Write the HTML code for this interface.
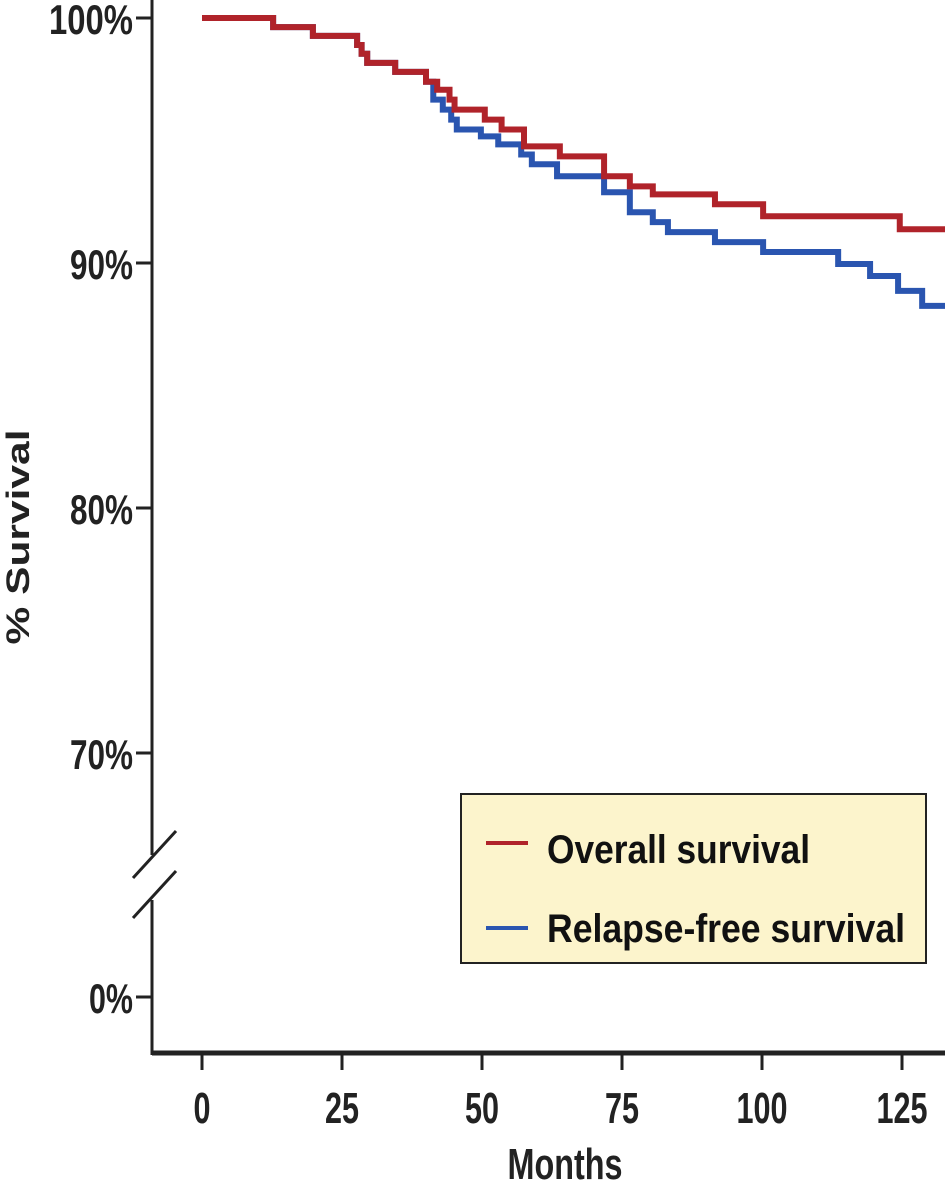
<!DOCTYPE html>
<html><head><meta charset="utf-8"><style>
html,body{margin:0;padding:0;background:#fff;}
svg{display:block;font-family:"Liberation Sans",Arial,sans-serif;font-weight:bold;}
</style></head><body>
<svg id="chart" width="945" height="1181" viewBox="0 0 945 1181">
<g id="axes"></g>
<g id="series"></g>
<g id="legend">
<rect x="461" y="794" width="465" height="169" fill="#fcf4cc" stroke="#222" stroke-width="2"/>
<line x1="486" y1="843" x2="528" y2="843" stroke="#b0232a" stroke-width="4"/>
<text x="547" y="863" font-size="40" textLength="263" lengthAdjust="spacingAndGlyphs" fill="#111">Overall survival</text>
<line x1="486" y1="928" x2="528" y2="928" stroke="#2a55b0" stroke-width="4"/>
<text x="547" y="942" font-size="40" textLength="358" lengthAdjust="spacingAndGlyphs" fill="#111">Relapse-free survival</text>
</g>
</svg>
<script>
const xTicks = [0, 25, 50, 75, 100, 125];
const yTicks = [100, 90, 80, 70];
const yTickLabels = ["100%", "90%", "80%", "70%"];
const overallMonths = [0, 12.7, 19.8, 27.7, 28.5, 29.5, 34.5, 40.0, 42.0, 44.2, 45.1, 50.5, 53.5, 57.5, 63.9, 71.8, 76.4, 80.5, 91.6, 100.2, 124.6, 133];
const overallPct = [100, 99.63, 99.27, 98.90, 98.54, 98.17, 97.80, 97.40, 97.07, 96.67, 96.26, 95.85, 95.45, 94.76, 94.35, 93.54, 93.13, 92.80, 92.40, 91.91, 91.38, 91.38];
const rfsMonths = [0, 12.7, 19.8, 27.7, 28.5, 29.5, 34.5, 40.0, 41.3, 43.0, 44.5, 45.5, 49.8, 52.9, 57.0, 58.9, 63.4, 71.8, 76.4, 80.5, 83.2, 91.6, 100.2, 113.6, 119.3, 124.3, 128.6, 133];
const rfsPct = [100, 99.63, 99.27, 98.90, 98.54, 98.17, 97.80, 97.40, 96.67, 96.26, 95.85, 95.45, 95.17, 94.84, 94.43, 94.03, 93.54, 92.89, 92.07, 91.67, 91.26, 90.85, 90.45, 89.96, 89.47, 88.86, 88.25, 88.25];

const NS = "http://www.w3.org/2000/svg";
const xScale = m => 202 + m * 5.6;
const yScale = p => 18 + (100 - p) * 24.5;
const axes = document.getElementById('axes');
const series = document.getElementById('series');
function mk(tag, attrs, parent, txt) {
  const e = document.createElementNS(NS, tag);
  for (const k in attrs) e.setAttribute(k, attrs[k]);
  if (txt !== undefined) e.textContent = txt;
  parent.appendChild(e);
  return e;
}
let e;
e = mk('line', {x1:152, y1:0, x2:152, y2:855, stroke:'#222', 'stroke-width':3}, axes);


e = mk('line', {x1:152, y1:900, x2:152, y2:1055, stroke:'#222', 'stroke-width':3}, axes);


e = mk('line', {x1:133, y1:878, x2:176, y2:831, stroke:'#222', 'stroke-width':3}, axes);


e = mk('line', {x1:133, y1:918, x2:176, y2:871, stroke:'#222', 'stroke-width':3}, axes);


e = mk('line', {x1:152, y1:1053, x2:945, y2:1053, stroke:'#222', 'stroke-width':5}, axes);


yTicks.forEach((v, i) => {
  const y = yScale(v);
  const t = mk('line', {x1:136, y1:y, x2:152, y2:y, stroke:'#222', 'stroke-width':3}, axes);
  
  
  const l = mk('text', {x:133, y:y + 16, 'font-size':42, 'text-anchor':'end', fill:'#222', textLength: yTickLabels[i].length * 21, lengthAdjust:'spacingAndGlyphs'}, axes, yTickLabels[i]);
  
  
});
e = mk('line', {x1:136, y1:997, x2:152, y2:997, stroke:'#222', 'stroke-width':3}, axes);


e = mk('text', {x:133, y:1013, 'font-size':42, 'text-anchor':'end', fill:'#222', textLength:44, lengthAdjust:'spacingAndGlyphs'}, axes, '0%');


xTicks.forEach(v => {
  const x = xScale(v);
  const t = mk('line', {x1:x, y1:1055, x2:x, y2:1070, stroke:'#222', 'stroke-width':3}, axes);
  
  
  const s = String(v);
  const l = mk('text', {x:x, y:1123, 'font-size':44, 'text-anchor':'middle', fill:'#222', textLength: s.length * 17, lengthAdjust:'spacingAndGlyphs'}, axes, s);
  
  
});
e = mk('text', {x:565, y:1179, 'font-size':44, 'text-anchor':'middle', fill:'#222', textLength:115, lengthAdjust:'spacingAndGlyphs'}, axes, 'Months');


e = mk('text', {x:0, y:0, 'font-size':32, 'text-anchor':'middle', fill:'#222', textLength:215, lengthAdjust:'spacingAndGlyphs', transform:'translate(29,537) rotate(-90)'}, axes, '% Survival');



function stepPath(ms, ps) {
  let d = 'M' + xScale(ms[0]) + ',' + yScale(ps[0]);
  for (let i = 1; i < ms.length; i++) {
    d += ' H' + Math.min(945, xScale(ms[i])) + ' V' + yScale(ps[i]);
  }
  return d;
}
e = mk('path', {d: stepPath(rfsMonths, rfsPct), fill:'none', stroke:'#2a55b0', 'stroke-width':6}, series);


e = mk('path', {d: stepPath(overallMonths, overallPct), fill:'none', stroke:'#b0232a', 'stroke-width':6}, series);


</script>
</body></html>
